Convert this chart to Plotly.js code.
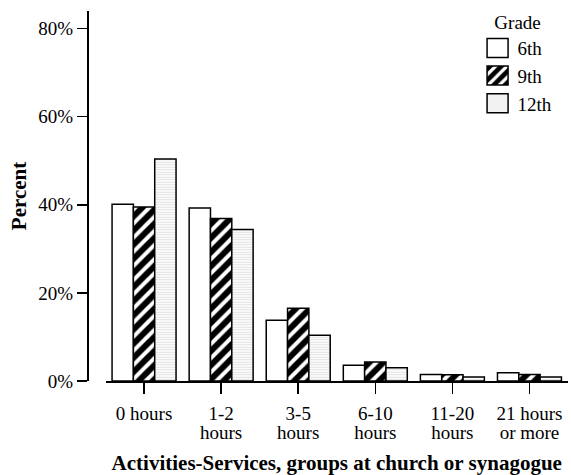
<!DOCTYPE html>
<html>
<head>
<meta charset="utf-8">
<script src="https://cdn.plot.ly/plotly-3.0.1.min.js"></script>
<style>html,body{margin:0;padding:0;background:#fff;}#chart{width:571px;height:475px;}</style>
</head>
<body>
<div id="chart"></div>
<script>
var categories = ["0 hours", "1-2<br>hours", "3-5<br>hours", "6-10<br>hours", "11-20<br>hours", "21 hours<br>or more"];
var grades = ["6th", "9th", "12th"];
var values6th = [40.1, 39.3, 13.8, 3.6, 1.5, 1.9];
var values9th = [39.5, 36.9, 16.5, 4.3, 1.4, 1.5];
var values12th = [50.4, 34.4, 10.4, 3.0, 0.9, 0.9];
var yTicks = [0, 20, 40, 60, 80];
var yTickLabels = ["0%", "20%", "40%", "60%", "80%"];

var FONT = "Liberation Serif, Times New Roman, serif";
var idx = categories.map(function(_, i){ return i; });
var line = {color: "#000", width: 1.5};

var traces = [
  {type: "bar", name: grades[0], x: idx, y: values6th,
   marker: {color: "#fff", line: line}},
  {type: "bar", name: grades[1], x: idx, y: values9th,
   marker: {color: "#000", line: line,
            pattern: {shape: "/", bgcolor: "#000", fgcolor: "#fff", size: 10, solidity: 0.4, fillmode: "replace"}}},
  {type: "bar", name: grades[2], x: idx, y: values12th,
   marker: {color: "#fff", line: line,
            pattern: {shape: "-", bgcolor: "#fff", fgcolor: "#dedede", size: 2.5, solidity: 0.4}}}
];

var layout = {
  width: 571, height: 475,
  paper_bgcolor: "#fff", plot_bgcolor: "#fff",
  margin: {l: 87, r: 3, t: 11, b: 93.5},
  font: {family: FONT, size: 19, color: "#000"},
  barmode: "group", bargap: 0.17, bargroupgap: 0,
  showlegend: true,
  legend: {x: 0.812, y: 1.018, xanchor: "left", yanchor: "top",
           bgcolor: "rgba(0,0,0,0)", font: {family: FONT, size: 19},
           title: {text: "Grade", side: "top center", font: {family: FONT, size: 19}},
           tracegroupgap: 0, itemwidth: 30},
  xaxis: {
    domain: [0.0385, 1], range: [-0.5, 5.5],
    tickmode: "array", tickvals: idx, ticktext: categories,
    showline: true, linecolor: "#000", linewidth: 1.5,
    ticks: "outside", ticklen: 11, tickwidth: 1.5, tickcolor: "#000",
    showgrid: false, zeroline: false,
    tickfont: {family: FONT, size: 19},
    ticklabelstandoff: 4,
    title: {text: "<b>Activities-Services, groups at church or synagogue</b>", font: {family: FONT, size: 21}, standoff: 10}
  },
  yaxis: {
    anchor: "free", position: 0,
    range: [0, 84], tickmode: "array", tickvals: yTicks, ticktext: yTickLabels,
    showline: true, linecolor: "#000", linewidth: 1.5,
    ticks: "outside", ticklen: 10, tickwidth: 1.5, tickcolor: "#000",
    showgrid: false, zeroline: false,
    tickfont: {family: FONT, size: 19},
    title: {text: "<b>Percent</b>", font: {family: FONT, size: 21}, standoff: 4}
  }
};

Plotly.newPlot("chart", traces, layout, {staticPlot: true}).then(function(gd){
  var paths = gd.querySelectorAll("g.legend path.legendbar, g.legend .legendpoints path");
  paths.forEach(function(p){ p.setAttribute("d", "M10.5,9.5H-10.5V-9.5H10.5Z"); });
  var spans = gd.querySelectorAll("g.xtick text tspan.line");
  spans.forEach(function(s){
    var dy = s.getAttribute("dy");
    if (dy && parseFloat(dy) > 0) s.setAttribute("dy", "1.0em");
  });
});
</script>
</body>
</html>
